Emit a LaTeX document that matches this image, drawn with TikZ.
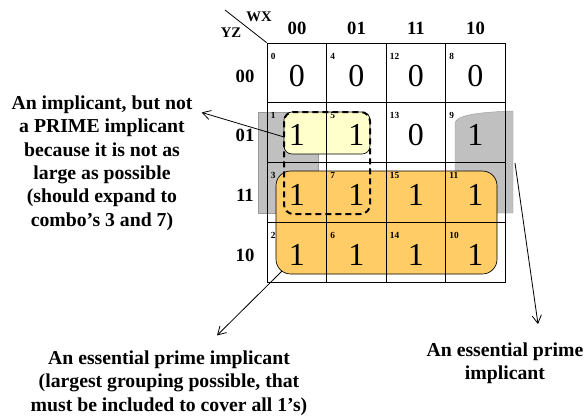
\documentclass[tikz,border=0pt]{standalone}
\usepackage{fontspec}
\setmainfont{Liberation Serif}
\usepackage{tikz}
\usetikzlibrary{positioning,arrows.meta,calc}
\definecolor{kyellow}{HTML}{FFFFCC}
\definecolor{korange}{HTML}{FFCC66}
\definecolor{kgray}{HTML}{C0C0C0}

\begin{document}
\begin{tikzpicture}[
    x=0.75pt, y=-0.75pt,
    cell/.style={rectangle, draw, line width=0.6pt, minimum width=44.6pt,
                 minimum height=44.8pt, inner sep=0pt},
    idx/.style={font=\fontsize{7}{8}\selectfont\bfseries, inner sep=0pt, anchor=north west},
    val/.style={font=\fontsize{24}{26}\selectfont, inner sep=0pt},
    hdr/.style={font=\fontsize{14}{16}\selectfont\bfseries, inner sep=0pt},
    var/.style={font=\fontsize{11}{12}\selectfont\bfseries, inner sep=0pt},
    note/.style={font=\fontsize{14.8}{17.5}\selectfont\bfseries, align=center, inner sep=0pt},
    grayg/.style={fill=kgray, draw=gray!80, line width=0.3pt},
    yelg/.style={fill=kyellow, draw, line width=0.5pt, rounded corners=6pt},
    orag/.style={fill=korange, draw, line width=0.5pt, rounded corners=11pt},
    pig/.style={draw, dashed, line width=1.5pt, dash pattern=on 4.5pt off 3pt, rounded corners=7pt},
    arr/.style={-{Straight Barb[length=6pt,width=7pt]}, line width=0.6pt},
]
\useasboundingbox (0,0) rectangle (588,418);

% wrap-around group 1,3,9,11
\fill[grayg] (258,112) rectangle (318,213);
\draw[grayg] (455,213) -- (455,123) .. controls (456,115) and (480,112) .. (513,111)
    -- (513,213) -- cycle;

% groups
\draw[yelg] (284,112) rectangle (370,154);
\draw[orag] (276,171) rectangle (497,274);

% cells: index / column / row / value
\foreach \i/\c/\r/\v in {0/0/0/0, 4/1/0/0, 12/2/0/0, 8/3/0/0,
                         1/0/1/1, 5/1/1/1, 13/2/1/0, 9/3/1/1,
                         3/0/2/1, 7/1/2/1, 15/2/2/1, 11/3/2/1,
                         2/0/3/1, 6/1/3/1, 14/2/3/1, 10/3/3/1} {
    \node[cell] (c\i) at (296.75+59.5*\c, 72.9+59.75*\r) {};
    \node[idx] (n\i) at ([xshift=3pt, yshift=-7.5pt]c\i.north west) {\i};
    \node[val] (v\i) at ([yshift=-2pt]c\i.center) {\v};
}

% non-prime implicant
\draw[pig] (284,112) rectangle (370,214);

% headers
\foreach \c/\t in {0/00, 1/01, 2/11, 3/10}
    \node[hdr] (col\c) at (297+59.5*\c, 28) {\t};
\foreach \r/\t in {0/00, 1/01, 2/11, 3/10}
    \node[hdr] (row\r) at (245, 76+59.75*\r) {\t};
\node[var] (wx) at (259,17) {WX};
\node[var] (yz) at (231,33) {YZ};
\coordinate (diag) at (225,10);
\draw[line width=0.6pt] (diag) -- (c0.north west);

% notes
\node[note] (ipi) at (102,163) {An implicant, but not\\a PRIME implicant\\because it is not as\\large as possible\\(should expand to\\combo's 3 and 7)};
\node[note] (epi) at (169,383) {An essential prime implicant\\(largest grouping possible, that\\must be included to cover all 1's)};
\node[note] (wrap) at (505,363) {An essential prime\\implicant};

\coordinate (yelw) at (284,137);
\coordinate (orsw) at (282,271);
\coordinate (grye) at (515,163);
\draw[arr] (yelw) -- ($(ipi.north east)+(9,17)$);
\draw[arr] (orsw) -- ($(epi.north)+(48,-15)$);
\draw[arr] (grye) -- ($(wrap.north)+(33,-18)$);
\end{tikzpicture}
\end{document}
